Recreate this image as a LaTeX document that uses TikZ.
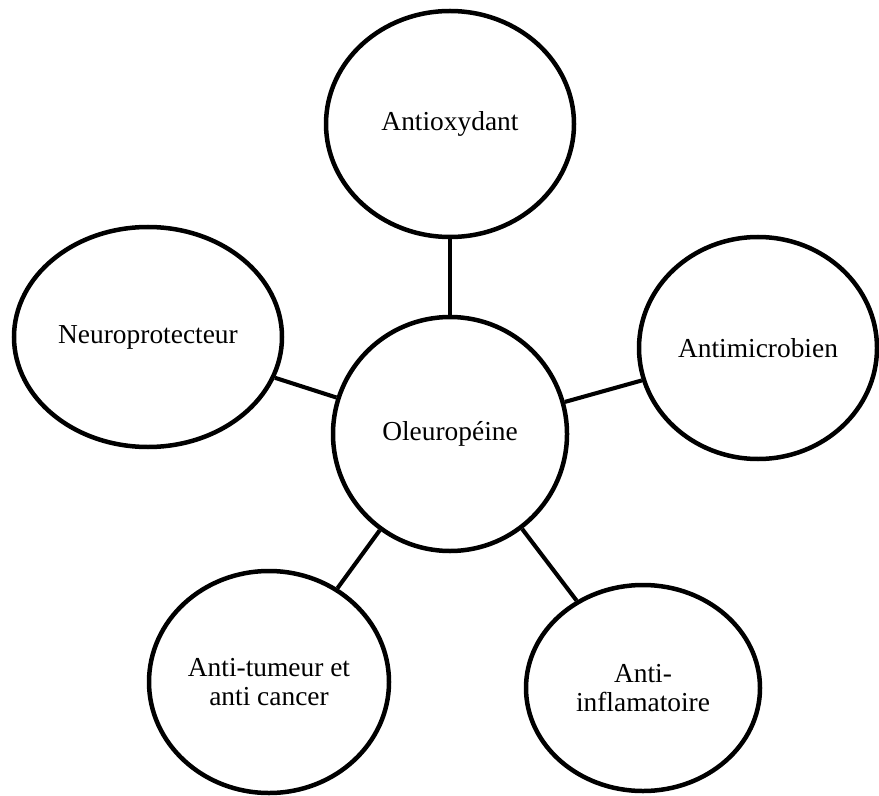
\documentclass[tikz,border=0pt]{standalone}
\usepackage{fontspec}
\setmainfont{Liberation Serif}
\usetikzlibrary{shapes.geometric}
\begin{document}
\begin{tikzpicture}[
    bulle/.style={ellipse, draw, line width=3.2pt, inner sep=0pt, align=center, font=\fontsize{19.5}{20}\selectfont},
    lien/.style={line width=2.9pt}]
    \useasboundingbox (0,0) rectangle (21.975,-19.9);
    \node[bulle, minimum width=5.85cm, minimum height=5.85cm] (ole) at (11.25,-10.85) {Oleuropéine};
    \node[bulle, minimum width=6.2cm, minimum height=5.65cm] (antiox) at (11.25,-3.1) {Antioxydant};
    \node[bulle, minimum width=6.7cm, minimum height=5.5cm] (neuro) at (3.7,-8.425) {Neuroprotecteur};
    \node[bulle, minimum width=5.95cm, minimum height=5.55cm] (antimic) at (18.95,-8.7) {Antimicrobien};
    \node[bulle, minimum width=6.0cm, minimum height=5.55cm] (tumeur) at (6.725,-17.05) {Anti-tumeur et\\anti cancer};
    \node[bulle, minimum width=5.85cm, minimum height=5.15cm] (inflam) at (16.075,-17.2) {Anti-\\inflamatoire};
    \path[lien] (ole) edge (antiox);
    \path[lien] (ole) edge (neuro);
    \path[lien] (ole) edge (antimic);
    \path[lien] (ole) edge (tumeur);
    \path[lien] (ole) edge (inflam);
\end{tikzpicture}
\end{document}
